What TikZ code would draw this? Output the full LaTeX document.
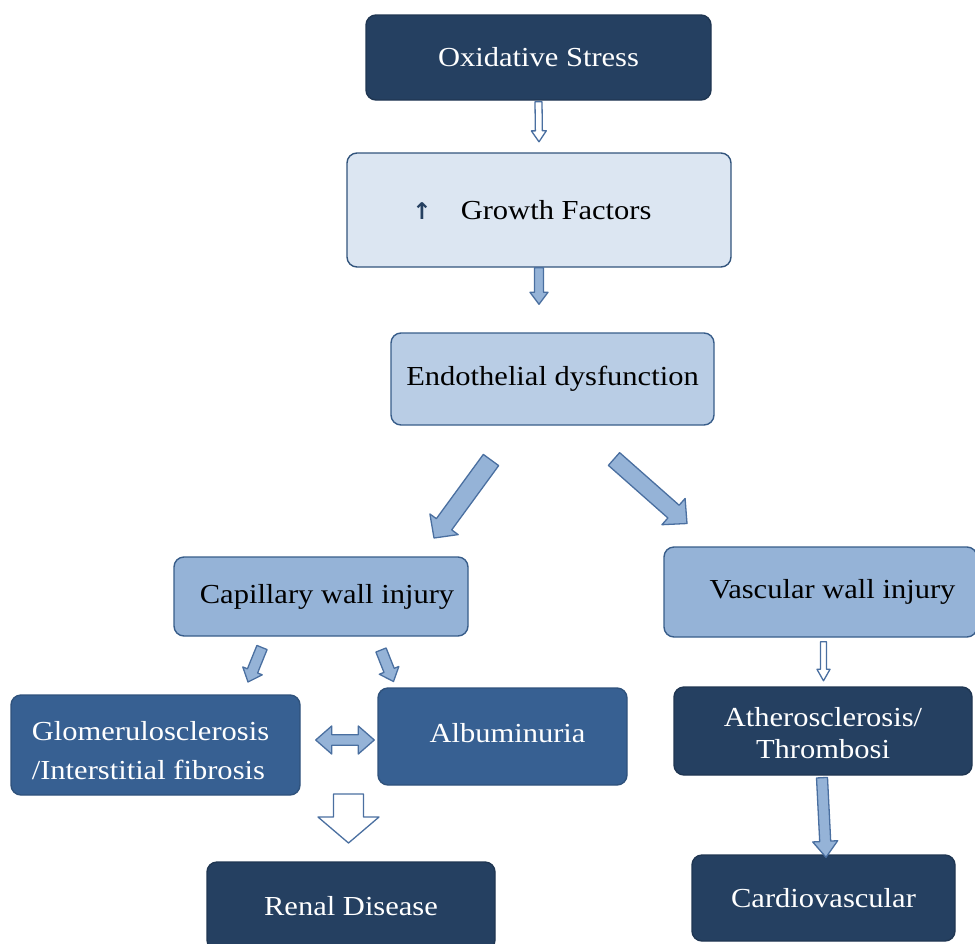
\documentclass[tikz,border=0pt]{standalone}
\usepackage{fontspec}
\setmainfont{Liberation Serif}[FakeStretch=1.11]
\newfontfamily\arrowfont{DejaVu Sans}
\usetikzlibrary{calc}
\definecolor{navy}{HTML}{254061}
\definecolor{midblue}{HTML}{376092}
\definecolor{lightblue}{HTML}{95B3D7}
\definecolor{paleblue}{HTML}{B9CDE5}
\definecolor{iceblue}{HTML}{DCE6F2}
\definecolor{edgeblue}{HTML}{385D8A}
\definecolor{arrowedge}{HTML}{4A6FA0}
\newcommand\barrow[6][]{%
  \path[#1] ($(#2)!#4!90:(#3)$)
    -- ($(#3)!#6!(#2)!#4!-90:(#2)$)
    -- ($(#3)!#6!(#2)!#5!-90:(#2)$)
    -- (#3)
    -- ($(#3)!#6!(#2)!#5!90:(#2)$)
    -- ($(#3)!#6!(#2)!#4!90:(#2)$)
    -- ($(#2)!#4!-90:(#3)$) -- cycle;}
\newcommand\dbarrow[6][]{%
  \path[#1] (#2)
    -- ($(#2)!#6!(#3)!#5!90:(#3)$)
    -- ($(#2)!#6!(#3)!#4!90:(#3)$)
    -- ($(#3)!#6!(#2)!#4!-90:(#2)$)
    -- ($(#3)!#6!(#2)!#5!-90:(#2)$)
    -- (#3)
    -- ($(#3)!#6!(#2)!#5!90:(#2)$)
    -- ($(#3)!#6!(#2)!#4!90:(#2)$)
    -- ($(#2)!#6!(#3)!#4!-90:(#3)$)
    -- ($(#2)!#6!(#3)!#5!-90:(#3)$) -- cycle;}
\tikzset{
  box/.style={rectangle, rounded corners=10pt, line width=1.4pt, inner sep=0pt, align=center,
    font=\fontsize{27.5}{32}\selectfont},
  darkbox/.style={box, fill=navy, draw=navy!85!black, text=white},
  midbox/.style={box, fill=midblue, draw=midblue!85!black, text=white},
  lightbox/.style={box, fill=lightblue, draw=edgeblue, text=black},
  palebox/.style={box, fill=paleblue, draw=edgeblue, text=black},
  icebox/.style={box, fill=iceblue, draw=edgeblue!90!black, text=black},
  fillarrow/.style={fill=lightblue, draw=arrowedge, line width=1.3pt, line join=round},
  openarrow/.style={fill=white, draw=arrowedge, line width=1.3pt, line join=round},
}
\begin{document}
\begin{tikzpicture}[x=1pt,y=-1pt]
\useasboundingbox (0,0) rectangle (975,943);
\clip (0,0) rectangle (975,943);
% boxes
\node[darkbox, minimum width=345pt, minimum height=85pt] (ox) at (538.5,57.5) {\raisebox{-2pt}{Oxidative Stress}};
\node[icebox, minimum width=384pt, minimum height=114pt] (gf) at (539,210) {{\color{navy}\arrowfont\bfseries\fontsize{23}{24}\selectfont ↑}\hspace{29pt}Growth Factors\hspace{14pt}};
\node[palebox, minimum width=323pt, minimum height=92pt] (ed) at (552.5,379) {Endothelial dysfunction};
\node[lightbox, minimum width=294pt, minimum height=79pt] (cap) at (321,596.5) {\hspace{12pt}Capillary wall injury};
\node[lightbox, minimum width=313pt, minimum height=90pt] (vas) at (820.5,592) {\hspace{24pt}Vascular wall injury};
\node[midbox, minimum width=289pt, minimum height=100pt, align=left, font=\fontsize{27.5}{39}\selectfont] (glo) at (155.5,745) {\hspace{-10pt}\rule{0pt}{30pt}Glomerulosclerosis\\\hspace{-10pt}/Interstitial fibrosis};
\node[midbox, minimum width=249pt, minimum height=97pt] (alb) at (502.5,736.5) {\raisebox{8pt}{\hspace{10pt}Albuminuria}};
\node[darkbox, minimum width=298pt, minimum height=88pt] (ath) at (823,731) {\rule{0pt}{23pt}Atherosclerosis/\\Thrombosi};
\node[darkbox, minimum width=288pt, minimum height=88pt] (ren) at (351,906) {\raisebox{-3pt}{Renal Disease}};
\node[darkbox, minimum width=263pt, minimum height=86pt] (car) at (823.5,898) {\raisebox{-1pt}{Cardiovascular}};
% arrow end points
\coordinate (a1s) at ($(ox.south)+(0,1)$);
\coordinate (a1e) at ($(gf.north)+(0,-10.5)$);
\coordinate (a2s) at (gf.south);
\coordinate (a2e) at ($(ed.north)+(-13.5,-28)$);
\coordinate (a3s) at (491,460);
\coordinate (a3e) at (434,538);
\coordinate (a4s) at (614,459);
\coordinate (a4e) at (687,523.5);
\coordinate (a5s) at (262,647.5);
\coordinate (a5e) at (248,682);
\coordinate (a6s) at (381,650);
\coordinate (a6e) at (393.5,681.5);
\coordinate (a7s) at ($(glo.east)+(15,-5)$);
\coordinate (a7e) at ($(alb.west)+(-3,3.5)$);
\coordinate (a8s) at (348.5,794);
\coordinate (a8e) at (348.5,843);
\coordinate (a9s) at ($(vas.south)+(3,4)$);
\coordinate (a9e) at ($(ath.north)+(0.5,-5.5)$);
\coordinate (a10s) at ($(ath.south)+(-1,2)$);
\coordinate (a10e) at ($(car.north)+(2.5,3)$);
% connectors
\barrow[openarrow]{a1s}{a1e}{3.5pt}{7.5pt}{11pt}
\barrow[fillarrow]{a2s}{a2e}{4.5pt}{9pt}{12pt}
\barrow[fillarrow]{a3s}{a3e}{9.5pt}{17.5pt}{17pt}
\barrow[fillarrow]{a4s}{a4e}{8.5pt}{17.5pt}{18pt}
\barrow[fillarrow]{a5s}{a5e}{5.5pt}{10.5pt}{12pt}
\barrow[fillarrow]{a6s}{a6e}{5.5pt}{10.5pt}{12pt}
\dbarrow[fillarrow]{a7s}{a7e}{5.3pt}{14pt}{16pt}
\barrow[openarrow]{a8s}{a8e}{15pt}{30.5pt}{26pt}
\barrow[openarrow]{a9s}{a9e}{3pt}{6.5pt}{11.5pt}
\barrow[fillarrow]{a10s}{a10e}{5.5pt}{12.5pt}{16pt}
\end{tikzpicture}
\end{document}
